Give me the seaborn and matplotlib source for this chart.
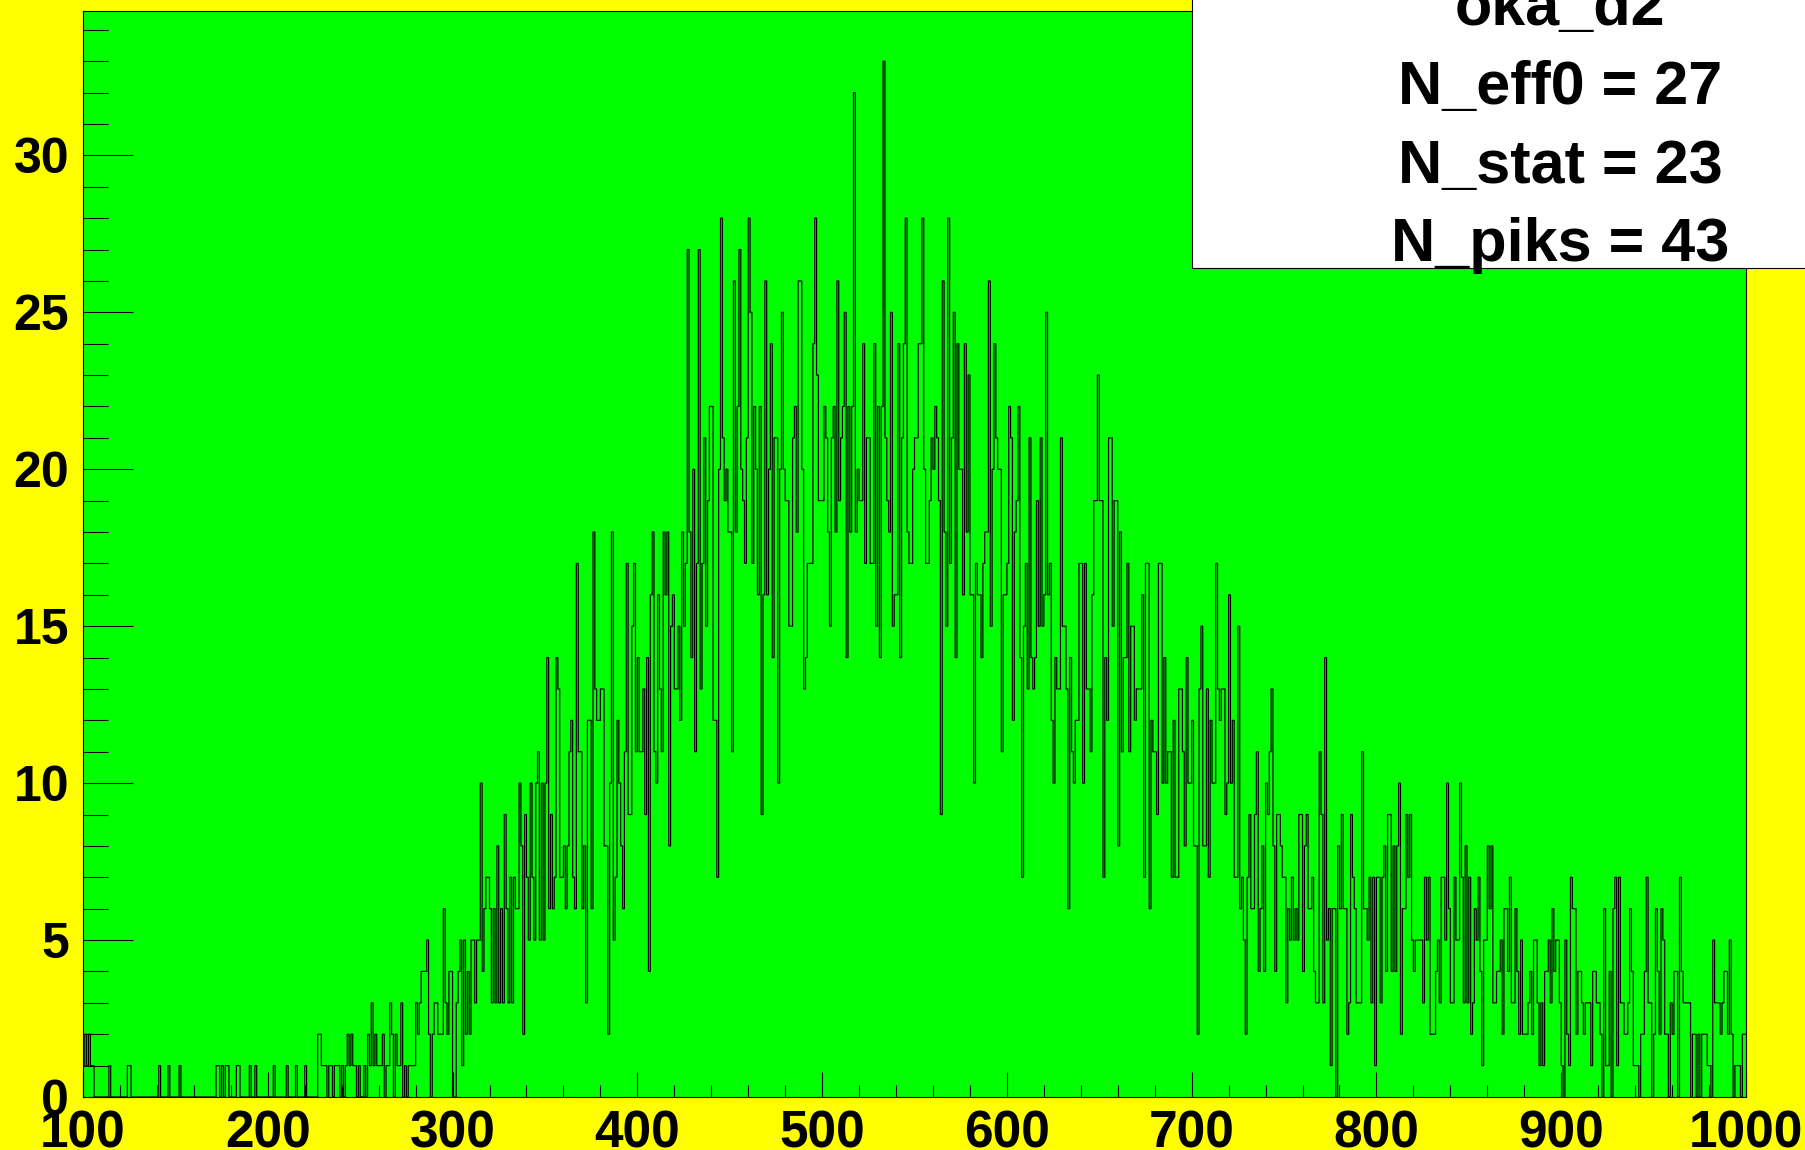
import numpy as np
import pandas as pd
import matplotlib
matplotlib.use("Agg")
import matplotlib.pyplot as plt
import seaborn as sns
from matplotlib.ticker import MultipleLocator
from matplotlib.patches import Rectangle

# ---- data: counts per unit-wide bin, 100 .. 999 ----
x_min = 100
x_max = 1000

counts_100_259 = [
    1, 2, 1, 2, 1, 1, 0, 0, 0, 0,
    0, 0, 0, 0, 1, 0, 0, 0, 0, 0,
    0, 0, 0, 0, 1, 1, 0, 0, 0, 0,
    0, 0, 0, 0, 0, 0, 0, 0, 0, 0,
    0, 1, 0, 0, 0, 0, 1, 0, 0, 0,
    0, 0, 1, 0, 0, 0, 0, 0, 0, 0,
    0, 0, 0, 0, 0, 0, 0, 0, 0, 0,
    0, 0, 1, 1, 0, 1, 0, 1, 1, 0,
    0, 0, 0, 1, 1, 0, 0, 0, 0, 0,
    1, 0, 0, 1, 0, 0, 0, 0, 0, 0,
    0, 0, 0, 1, 0, 0, 0, 0, 0, 0,
    1, 0, 0, 0, 0, 1, 0, 0, 0, 0,
    1, 0, 0, 0, 0, 0, 0, 2, 2, 1,
    1, 1, 0, 1, 1, 0, 1, 1, 1, 0,
    1, 0, 1, 2, 1, 2, 1, 1, 0, 1,
    0, 0, 1, 0, 2, 1, 3, 1, 2, 1,
]
counts_260_346 = [
    1, 1, 2, 0, 1, 1, 3, 2, 0, 2,
    1, 1, 3, 0, 1, 0, 1, 1, 1, 1,
    3, 2, 3, 4, 4, 4, 5, 2, 0, 2,
    3, 3, 2, 2, 2, 6, 3, 2, 4, 4,
    0, 0, 3, 4, 5, 1, 5, 2, 4, 2,
    5, 5, 3, 5, 5, 10, 4, 6, 7, 7,
    6, 3, 6, 3, 8, 3, 6, 3, 9, 6,
    3, 7, 3, 7, 6, 6, 10, 8, 2, 9,
    7, 5, 10, 7, 5, 10, 11,
]
counts_347_444 = [
    5, 10, 5, 10, 14, 6, 9, 6, 7, 14,
    13, 7, 7, 8, 6, 8, 11, 12, 7, 6,
    17, 11, 11, 6, 8, 3, 12, 12, 6, 18,
    13, 12, 12, 13, 13, 8, 8, 2, 10, 18,
    5, 7, 12, 10, 8, 6, 11, 17, 9, 9,
    15, 17, 11, 14, 11, 11, 13, 9, 14, 4,
    16, 18, 11, 10, 16, 13, 11, 18, 16, 18,
    8, 15, 16, 13, 13, 15, 12, 18, 15, 17,
    27, 18, 14, 20, 11, 17, 27, 13, 17, 21,
    15, 19, 22, 22, 12, 12, 7, 20,
]
counts_445_530 = [
    28, 21, 19, 20, 18, 18, 11, 26, 18, 22,
    27, 20, 19, 17, 21, 28, 25, 17, 22, 20,
    16, 22, 9, 16, 26, 16, 20, 24, 14, 21,
    21, 10, 20, 25, 20, 19, 19, 15, 15, 21,
    22, 18, 26, 26, 20, 13, 14, 17, 17, 17,
    24, 28, 23, 19, 19, 19, 22, 21, 18, 15,
    21, 22, 18, 26, 19, 21, 22, 25, 14, 22,
    18, 22, 32, 18, 20, 19, 19, 24, 17, 21,
    21, 17, 17, 24, 15, 22,
]
counts_531_617 = [
    14, 22, 33, 21, 19, 18, 25, 15, 16, 16,
    24, 14, 21, 24, 28, 18, 17, 17, 20, 21,
    21, 24, 24, 28, 20, 17, 17, 19, 21, 20,
    22, 21, 19, 9, 26, 18, 15, 28, 17, 21,
    25, 14, 24, 20, 20, 16, 24, 18, 23, 16,
    16, 10, 17, 16, 16, 14, 17, 18, 18, 26,
    15, 20, 24, 21, 20, 20, 11, 16, 16, 17,
    22, 21, 12, 18, 19, 22, 14, 7, 15, 17,
    13, 21, 14, 13, 14, 19, 15,
]
counts_618_715 = [
    21, 15, 16, 25, 16, 17, 12, 10, 14, 13,
    13, 21, 15, 15, 13, 6, 14, 11, 10, 12,
    12, 17, 17, 10, 17, 13, 13, 11, 16, 19,
    19, 23, 19, 19, 7, 14, 12, 21, 21, 15,
    19, 19, 8, 18, 11, 14, 14, 17, 11, 15,
    15, 12, 13, 13, 13, 16, 7, 17, 17, 6,
    12, 11, 11, 9, 17, 17, 10, 14, 10, 11,
    11, 7, 12, 7, 7, 13, 13, 11, 8, 14,
    10, 10, 12, 8, 8, 2, 13, 15, 8, 8,
    13, 7, 12, 10, 10, 17, 13, 12,
]
counts_716_807 = [
    13, 13, 9, 10, 16, 10, 12, 7, 7, 15,
    6, 7, 5, 2, 7, 9, 6, 6, 9, 11,
    4, 6, 8, 4, 10, 9, 11, 13, 8, 4,
    9, 9, 8, 7, 7, 3, 6, 5, 7, 5,
    6, 5, 9, 9, 4, 8, 9, 6, 6, 7,
    4, 3, 3, 11, 9, 3, 14, 5, 6, 1,
    6, 6, 0, 8, 6, 9, 6, 6, 2, 3,
    9, 7, 6, 3, 3, 3, 11, 6, 6, 5,
    7, 3, 7, 1, 7, 7, 3, 7, 8, 4,
    9, 9,
]
counts_808_899 = [
    4, 8, 4, 8, 10, 2, 6, 6, 9, 7,
    9, 5, 4, 5, 5, 5, 5, 3, 7, 5,
    7, 2, 2, 2, 4, 5, 3, 7, 7, 5,
    10, 6, 3, 3, 7, 5, 5, 10, 7, 3,
    8, 3, 7, 2, 3, 6, 5, 7, 4, 1,
    5, 5, 8, 6, 8, 3, 3, 4, 4, 5,
    2, 6, 6, 4, 7, 3, 3, 6, 4, 2,
    5, 2, 2, 2, 3, 4, 2, 5, 5, 3,
    1, 3, 1, 4, 4, 5, 3, 6, 4, 5,
    5, 3,
]
counts_900_999 = [
    1, 0, 5, 2, 1, 7, 6, 6, 2, 4,
    4, 3, 2, 3, 3, 3, 1, 4, 4, 3,
    3, 2, 0, 6, 1, 1, 4, 0, 6, 7,
    1, 7, 3, 3, 2, 2, 3, 6, 4, 1,
    1, 1, 0, 2, 2, 4, 7, 3, 3, 0,
    2, 6, 4, 2, 6, 5, 2, 2, 0, 3,
    2, 4, 4, 0, 7, 4, 3, 3, 3, 3,
    0, 2, 2, 0, 2, 0, 2, 2, 2, 1,
    1, 0, 5, 3, 3, 3, 2, 3, 4, 4,
    2, 5, 2, 0, 1, 1, 1, 0, 2, 2,
]

stats_title = "oka_d2"
stats_lines = ["N_eff0 = 27", "N_stat = 23", "N_piks = 43"]
x_ticks = [100, 200, 300, 400, 500, 600, 700, 800, 900, 1000]
y_ticks = [0, 5, 10, 15, 20, 25, 30]

counts = (counts_100_259 + counts_260_346 + counts_347_444 + counts_445_530
          + counts_531_617 + counts_618_715 + counts_716_807 + counts_808_899
          + counts_900_999)
assert len(counts) == x_max - x_min, len(counts)

bin_left = list(range(x_min, x_max))
df = pd.DataFrame({"x": [b + 0.5 for b in bin_left], "n": counts})

# ---- style ----
plt.rcParams['font.family'] = ['Liberation Sans', 'DejaVu Sans']
plt.rcParams['font.weight'] = 'bold'

W, H = 1806, 1150
fig = plt.figure(figsize=(W / 100, H / 100), dpi=100, facecolor='#ffff00')
ax = fig.add_axes([83 / W, (H - 1097) / H, (1746 - 83) / W, (1097 - 11) / H])
ax.set_facecolor('#00ff00')

sns.histplot(data=df, x="x", weights="n", binwidth=1, binrange=(x_min, x_max),
             element="step", fill=False, color="black", linewidth=0.85, ax=ax)

ax.set_xlim(x_min, x_max)
ax.set_ylim(0, 34.6)
ax.set_xlabel("")
ax.set_ylabel("")
ax.set_xticks(x_ticks)
ax.set_yticks(y_ticks)
ax.xaxis.set_minor_locator(MultipleLocator(20))
ax.yaxis.set_minor_locator(MultipleLocator(1))
ax.set_xticklabels([str(t) for t in x_ticks])
ax.set_yticklabels([str(t) for t in y_ticks])

ax.tick_params(axis='x', which='major', direction='in', length=18, width=0.8,
               pad=9, labelsize=37, top=False)
ax.tick_params(axis='x', which='minor', direction='in', length=9, width=0.8, top=False)
ax.tick_params(axis='y', which='major', direction='in', length=36, width=0.8,
               pad=10, labelsize=36, right=False)
ax.tick_params(axis='y', which='minor', direction='in', length=18, width=0.8, right=False)
for lab in ax.get_xticklabels() + ax.get_yticklabels():
    lab.set_fontweight('bold')
for sp in ax.spines.values():
    sp.set_color('black')
    sp.set_linewidth(0.8)

# ---- stats box ----
box_left = 1192 / W
box_bottom = 1 - 268 / H
rect = Rectangle((box_left, box_bottom), 1.01 - box_left, 1.01 - box_bottom,
                 transform=fig.transFigure, facecolor='white', edgecolor='black',
                 linewidth=0.8, zorder=10)
fig.add_artist(rect)
cx = 1560 / W
baselines = [25, 104, 183, 261]
for txt, b in zip([stats_title] + stats_lines, baselines):
    fig.text(cx, 1 - b / H, txt, ha='center', va='baseline', fontsize=44,
             fontweight='bold', color='black', zorder=11)

fig.savefig("out.png", dpi=100, facecolor=fig.get_facecolor())
